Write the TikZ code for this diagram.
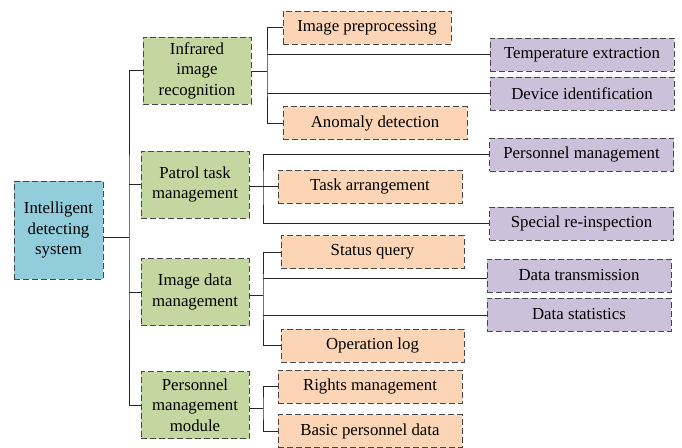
\documentclass[tikz,border=0pt]{standalone}
\usepackage{fontspec}
\setmainfont{Liberation Serif}
\begin{document}
\begin{tikzpicture}[x=1pt,y=-1pt,
  box/.style={draw=black!72, line width=1pt, dash pattern=on 6pt off 3pt,
    inner sep=0pt, align=center, font=\rmfamily\fontsize{16.8}{20.6}\selectfont},
  rootbox/.style={box, fill=rootblue, minimum width=89pt, minimum height=98pt},
  modbox/.style={box, fill=modgreen, minimum width=108pt, minimum height=67pt},
  leafA/.style={box, fill=leaforange, minimum height=33pt},
  leafB/.style={box, fill=leafpurple, minimum width=184pt, minimum height=33pt},
  link/.style={draw=black!85, line width=0.8pt}]
\definecolor{rootblue}{RGB}{146,205,220}
\definecolor{modgreen}{RGB}{196,215,160}
\definecolor{leaforange}{RGB}{251,213,181}
\definecolor{leafpurple}{RGB}{204,193,218}
\useasboundingbox (0,0) rectangle (682,447);

% root and modules
\node[rootbox] (root) at (58.5,230) {Intelligent\\detecting\\system};
\node[modbox] (m1) at (197,70.5) {Infrared\\image\\recognition};
\node[modbox] (m2) at (195,184.5) {Patrol task\\management};
\node[modbox] (m3) at (195,292) {Image data\\management};
\node[modbox] (m4) at (195,405) {Personnel\\management\\module};

% infrared image recognition
\node[leafA, minimum width=168pt] (pre) at (367,27.5) {Image preprocessing};
\node[leafB] (tmp) at (582,54.5) {Temperature extraction};
\node[leafB] (dev) at (582,93.5) {Device identification};
\node[leafA, minimum width=184pt] (ano) at (375,123) {Anomaly detection};

% patrol task management
\node[leafB] (pm) at (581.5,154.5) {Personnel management};
\node[leafA, minimum width=184pt] (task) at (370,186.5) {Task arrangement};
\node[leafB] (spec) at (581.5,223.5) {Special re-inspection};

% image data management
\node[leafA, minimum width=183pt] (sq) at (372.5,252) {Status query};
\node[leafB] (dt) at (579,275.5) {Data transmission};
\node[leafB] (ds) at (579,314.5) {Data statistics};
\node[leafA, minimum width=183pt] (ol) at (372.5,345.5) {Operation log};

% personnel management module
\node[leafA, minimum width=184pt] (rm) at (370,386.5) {Rights management};
\node[leafA, minimum width=184pt] (bpd) at (370,431) {Basic personnel data};

% trunk from the root to the modules
\coordinate (t) at (129,237);
\draw[link] (root.east |- t) -- (t);
\draw[link] (m1.west) -| (t) |- (m4.west);
\draw[link] (t |- m2.west) -- (m2.west);
\draw[link] (t |- m3.west) -- (m3.west);

% branches of each module
\coordinate (b1) at (267,71);
\draw[link] (m1.east |- b1) -- (b1);
\draw[link] (pre.west) -| (b1) |- (ano.west);
\draw[link] (b1 |- tmp.west) -- (tmp.west);
\draw[link] (b1 |- dev.west) -- (dev.west);

\coordinate (b2) at (263,186.5);
\draw[link] (m2.east |- b2) -- (task.west);
\draw[link] (pm.west) -| (b2) |- (spec.west);

\coordinate (b3) at (263,295);
\draw[link] (m3.east |- b3) -- (b3);
\draw[link] (sq.west) -| (b3) |- (ol.west);
\draw[link] ([yshift=-3pt]b3 |- dt.west) -- ([yshift=-3pt]dt.west);
\draw[link] ([yshift=-1pt]b3 |- ds.west) -- ([yshift=-1pt]ds.west);

\coordinate (b4) at (263,408);
\draw[link] (m4.east |- b4) -- (b4);
\draw[link] (rm.west) -| (b4) |- (bpd.west);
\end{tikzpicture}
\end{document}
